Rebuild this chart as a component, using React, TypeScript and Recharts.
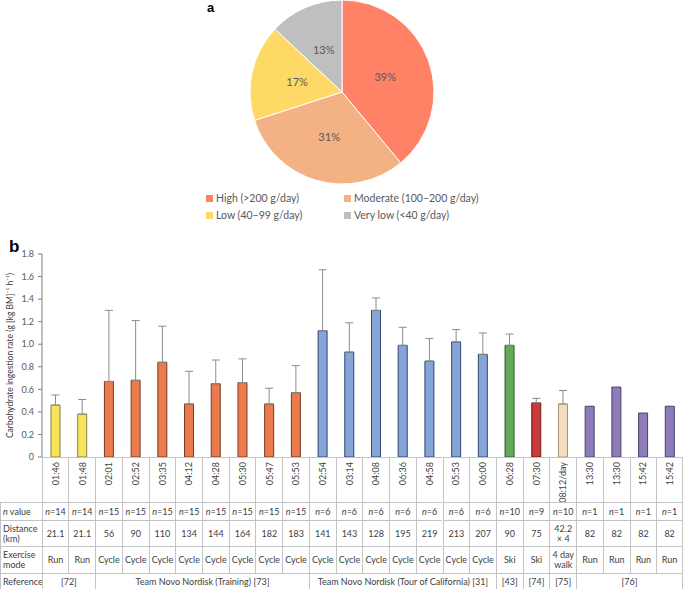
import React from 'react'
import {
  PieChart,
  Pie,
  Cell,
  Legend,
  BarChart,
  Bar,
  XAxis,
  YAxis,
  ErrorBar
} from 'recharts'

// panel a: daily carbohydrate intake
const intakeLevels = ['High (>200 g/day)', 'Moderate (100–200 g/day)', 'Low (40–99 g/day)', 'Very low (<40 g/day)']
const intakeShares = [39, 31, 17, 13]

// panel b: ingestion rate per event
const times = ['01:46', '01:48', '02:01', '02:52', '03:35', '04:12', '04:28', '05:30', '05:47', '05:53', '02:54', '03:14', '04:08', '06:36', '04:58', '05:53', '06:00', '06:28', '07:30', '08:12/day', '13:30', '13:30', '15:42', '15:42']
const rates = [0.46, 0.38, 0.67, 0.68, 0.84, 0.47, 0.65, 0.66, 0.47, 0.57, 1.12, 0.93, 1.30, 0.99, 0.85, 1.02, 0.91, 0.99, 0.48, 0.47, 0.45, 0.62, 0.39, 0.45]
const rateSd = [0.09, 0.13, 0.63, 0.53, 0.32, 0.29, 0.21, 0.21, 0.14, 0.24, 0.54, 0.26, 0.11, 0.16, 0.20, 0.11, 0.19, 0.10, 0.04, 0.12, null, null, null, null]
const nValues = [14, 14, 15, 15, 15, 15, 15, 15, 15, 15, 6, 6, 6, 6, 6, 6, 6, 10, 9, 10, 1, 1, 1, 1]
const distances = ['21.1', '21.1', '56', '90', '110', '134', '144', '164', '182', '183', '141', '143', '128', '195', '219', '213', '207', '90', '75', '42.2 ×\u00a04', '82', '82', '82', '82']
const modes = ['Run', 'Run', 'Cycle', 'Cycle', 'Cycle', 'Cycle', 'Cycle', 'Cycle', 'Cycle', 'Cycle', 'Cycle', 'Cycle', 'Cycle', 'Cycle', 'Cycle', 'Cycle', 'Cycle', 'Ski', 'Ski', '4 day walk', 'Run', 'Run', 'Run', 'Run']
const studyOf = [0, 0, 1, 1, 1, 1, 1, 1, 1, 1, 2, 2, 2, 2, 2, 2, 2, 3, 4, 5, 6, 6, 6, 6]
const studies = ['[72]', 'Team Novo Nordisk (Training) [73]', 'Team Novo Nordisk (Tour of California) [31]', '[43]', '[74]', '[75]', '[76]']
const rateTicks = [0, 0.2, 0.4, 0.6, 0.8, 1.0, 1.2, 1.4, 1.6, 1.8]

const pieColors = ['#FF8266', '#F4B183', '#FFD966', '#BFBFBF']
const studyFill = ['#F8E45C', '#EC7A4F', '#85A5D6', '#68A85C', '#C73B3B', '#F7DDBF', '#8E7CB8']
const studyStroke = ['#8a8036', '#7a3a22', '#2f4670', '#2f5a2a', '#6a1a1a', '#a89478', '#4d3f6e']

const FONT = 'Lato, "Liberation Sans", sans-serif'
const TEXT = '#404040'
const GRID = '#c4c4c4'

const pieData = intakeLevels.map((name, i) => ({ name, value: intakeShares[i] }))

const barData = times.map((t, i) => ({
  idx: i,
  time: t,
  rate: rates[i],
  err: rateSd[i] == null ? null : [0, rateSd[i]]
}))

const RAD = Math.PI / 180

function PctLabel(props: any) {
  const { cx, cy, midAngle, outerRadius, value } = props
  const r = outerRadius * 0.5
  const x = cx + r * Math.cos(-midAngle * RAD)
  const y = cy + r * Math.sin(-midAngle * RAD)
  return (
    <text x={x} y={y} fill="#595959" fontSize={11} textAnchor="middle" dominantBaseline="central" fontFamily={FONT}>
      {value}%
    </text>
  )
}

function PieLegend(props: any) {
  // keep the slice order, the legend sorts by name otherwise
  const items = [...(props.payload || [])].sort(
    (a: any, b: any) => intakeLevels.indexOf(a.value) - intakeLevels.indexOf(b.value)
  )
  return (
    <div style={{ display: 'grid', gridTemplateColumns: '138px auto', rowGap: 3, marginLeft: 206, fontFamily: FONT, fontSize: 10.5, color: '#595959' }}>
      {items.map((it: any) => (
        <div key={it.value} style={{ display: 'flex', alignItems: 'center', height: 14 }}>
          <span style={{ width: 7, height: 7, background: it.color, marginRight: 3, display: 'inline-block' }} />
          {it.value}
        </div>
      ))}
    </div>
  )
}

function TimeTick(props: any) {
  const { x, y, index } = props
  return (
    <text x={x} y={y} transform={`rotate(-90 ${x} ${y})`} textAnchor="end" dominantBaseline="central" fontSize={9} fill={TEXT} fontFamily={FONT}>
      {times[index]}
    </text>
  )
}

// table under panel b
const COL0 = 41.7
const COLW = 26.72
const rows = [
  { top: 457, h: 45 },
  { top: 502, h: 18 },
  { top: 520, h: 26 },
  { top: 546, h: 27 },
  { top: 573, h: 16 }
]

function cellStyle(left: number, row: { top: number; h: number }, width: number, last: boolean): React.CSSProperties {
  return {
    position: 'absolute',
    left,
    top: row.top,
    width,
    height: row.h,
    boxSizing: 'border-box',
    borderLeft: `1px solid ${GRID}`,
    borderTop: `1px solid ${GRID}`,
    borderRight: last ? `1px solid ${GRID}` : undefined,
    display: 'flex',
    alignItems: 'center',
    justifyContent: 'center',
    textAlign: 'center',
    fontSize: 9,
    lineHeight: '10px',
    color: TEXT
  }
}

function headStyle(row: { top: number; h: number }): React.CSSProperties {
  return { ...cellStyle(0, row, COL0, false), justifyContent: 'flex-start', textAlign: 'left', paddingLeft: 2 }
}

function DataTable() {
  const cols = times.map((_, i) => i)
  const spans: { label: string; start: number; n: number }[] = []
  studyOf.forEach((s, i) => {
    const prev = spans[spans.length - 1]
    if (prev && studyOf[i - 1] === s) prev.n += 1
    else spans.push({ label: studies[s], start: i, n: 1 })
  })
  const last = times.length - 1
  return (
    <>
      {cols.map(i => (
        <div key={'l' + i} style={cellStyle(COL0 + i * COLW, rows[0], COLW, i === last)} />
      ))}
      <div style={headStyle(rows[1])}><span><i>n</i> value</span></div>
      {cols.map(i => (
        <div key={'n' + i} style={cellStyle(COL0 + i * COLW, rows[1], COLW, i === last)}>
          <span><i>n</i>={nValues[i]}</span>
        </div>
      ))}
      <div style={headStyle(rows[2])}>Distance (km)</div>
      {cols.map(i => (
        <div key={'d' + i} style={cellStyle(COL0 + i * COLW, rows[2], COLW, i === last)}>
          {distances[i]}
        </div>
      ))}
      <div style={headStyle(rows[3])}>Exercise mode</div>
      {cols.map(i => (
        <div key={'m' + i} style={cellStyle(COL0 + i * COLW, rows[3], COLW, i === last)}>
          {modes[i]}
        </div>
      ))}
      <div style={headStyle(rows[4])}>Reference</div>
      {spans.map(s => (
        <div key={'r' + s.start} style={{ ...cellStyle(COL0 + s.start * COLW, rows[4], s.n * COLW, s.start + s.n - 1 === last), whiteSpace: 'nowrap' }}>
          {s.label}
        </div>
      ))}
    </>
  )
}

export default function App() {
  return (
    <div style={{ position: 'absolute', left: 0, top: 0, width: 684, height: 589, overflow: 'hidden', fontFamily: FONT, background: '#fff' }}>
      <div style={{ position: 'absolute', left: 207, top: 0, fontSize: 13, fontWeight: 700, fontFamily: '"Liberation Sans", sans-serif' }}>a</div>
      <div style={{ position: 'absolute', left: 9, top: 237, fontSize: 17, fontWeight: 700, fontFamily: '"Liberation Sans", sans-serif' }}>b</div>

      <div style={{ position: 'absolute', left: 0, top: 0 }}>
        <PieChart width={684} height={235} margin={{ top: 0, right: 0, bottom: 0, left: 0 }}>
          <Pie
            data={pieData}
            dataKey="value"
            nameKey="name"
            cx={342}
            cy={92}
            outerRadius={92}
            startAngle={90}
            endAngle={-270}
            stroke="#fff"
            strokeWidth={1}
            label={PctLabel}
            labelLine={false}
            isAnimationActive={false}
          >
            {pieData.map((d, i) => (
              <Cell key={d.name} fill={pieColors[i]} />
            ))}
          </Pie>
          <Legend content={PieLegend} wrapperStyle={{ left: 0, top: 191, width: 684 }} />
        </PieChart>
      </div>

      <div style={{ position: 'absolute', left: 0, top: 240 }}>
        <BarChart width={684} height={262} data={barData} margin={{ top: 14, right: 1, bottom: 0, left: 0 }}>
          <XAxis
            dataKey="idx"
            height={45}
            interval={0}
            tickSize={0}
            tickMargin={5}
            axisLine={false}
            tick={TimeTick}
          />
          <YAxis
            width={42}
            domain={[0, 1.8]}
            ticks={rateTicks}
            tickFormatter={(v: number) => (v === 0 ? '0' : v.toFixed(1))}
            tickSize={4}
            tickMargin={4}
            stroke="#7f7f7f"
            tick={{ fontSize: 9, fill: '#595959', fontFamily: FONT }}
            label={{
              value: 'Carbohydrate ingestion rate (g [kg BM]⁻¹ h⁻¹)',
              angle: -90,
              position: 'insideLeft',
              offset: 10,
              style: { textAnchor: 'middle', fontSize: 8.5, fill: TEXT, fontFamily: FONT }
            }}
          />
          <Bar dataKey="rate" barSize={9} strokeWidth={1} isAnimationActive={false}>
            {barData.map((d, i) => (
              <Cell key={i} fill={studyFill[studyOf[i]]} stroke={studyStroke[studyOf[i]]} />
            ))}
            <ErrorBar dataKey="err" width={4} stroke="#8c8c8c" strokeWidth={1} direction="y" isAnimationActive={false} />
          </Bar>
        </BarChart>
      </div>

      <DataTable />
    </div>
  )
}
